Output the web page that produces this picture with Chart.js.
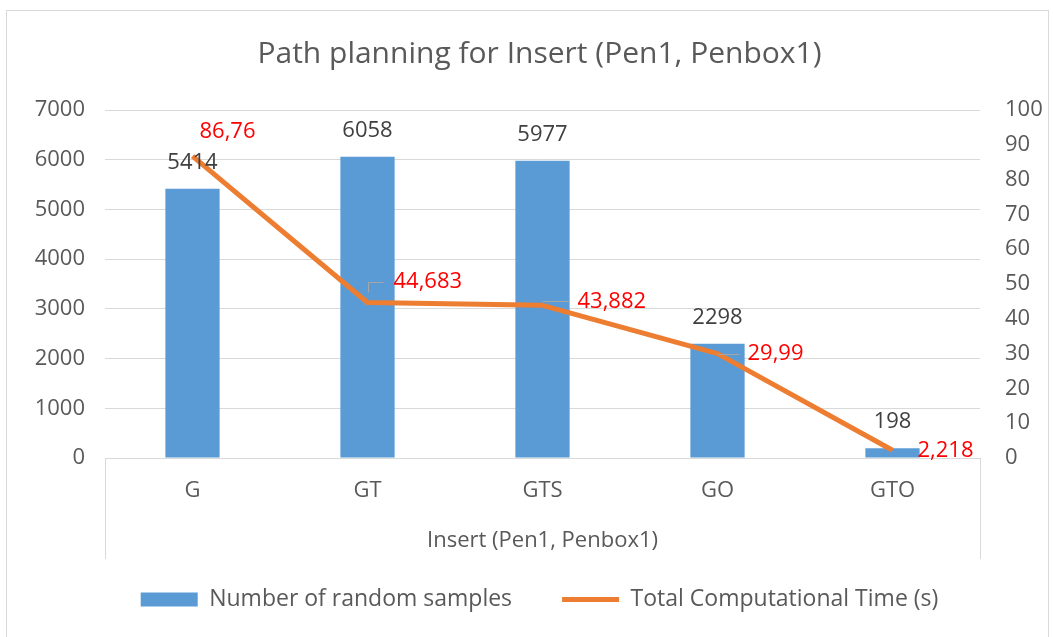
<!DOCTYPE html>
<html>
<head>
<meta charset="utf-8">
<script src="https://cdn.jsdelivr.net/npm/chart.js@4.4.0/dist/chart.umd.min.js"></script>
<style>
  html, body { margin: 0; padding: 0; background: #fff; }
  canvas { display: block; }
</style>
</head>
<body>
<canvas id="myChart" width="1053" height="637"></canvas>
<script>
// values
var categories = ['G', 'GT', 'GTS', 'GO', 'GTO'];
var randomSamples = [5414, 6058, 5977, 2298, 198];
var compTime = [86.76, 44.683, 43.882, 29.99, 2.218];

var samplesAxis = { min: 0, max: 7000, step: 1000 };
var timeAxis = { min: 0, max: 100, step: 10 };

// label placement for the red time labels (x offset to left edge, y offset of centre)
var timeLabelShift = [[7, -24], [26, -21], [35, -4], [30, 0], [25, 0]];
var timeLabelLeader = [false, true, true, true, false];

var FONT = "'Open Sans', sans-serif";
var GREY = '#595959';

Chart.defaults.font.family = FONT;
Chart.defaults.color = GREY;

var frame = {
    id: 'frame',
    beforeDraw: function (chart) {
        var c = chart.ctx;
        c.save();
        c.fillStyle = '#fff';
        c.fillRect(0, 0, chart.width, chart.height);
        c.strokeStyle = '#d9d9d9';
        c.lineWidth = 1;
        c.strokeRect(6.5, 10.5, 1042, 700);
        c.restore();
    },
    afterDraw: function (chart) {
        // the box below the category axis
        var a = chart.chartArea, c = chart.ctx;
        c.save();
        c.strokeStyle = '#d9d9d9';
        c.lineWidth = 1;
        c.beginPath();
        c.moveTo(Math.round(a.left) + 0.5, a.bottom);
        c.lineTo(Math.round(a.left) + 0.5, a.bottom + 101);
        c.moveTo(Math.round(a.right) + 0.5, a.bottom);
        c.lineTo(Math.round(a.right) + 0.5, a.bottom + 101);
        c.stroke();
        c.restore();
    }
};

var valueLabels = {
    id: 'valueLabels',
    afterDatasetsDraw: function (chart) {
        var c = chart.ctx;
        c.save();
        c.font = '22px ' + FONT;

        // bar values
        var bars = chart.getDatasetMeta(0).data;
        c.fillStyle = '#404040';
        c.textAlign = 'center';
        c.textBaseline = 'alphabetic';
        bars.forEach(function (b, i) {
            c.fillText(String(randomSamples[i]), b.x, b.y - 20);
        });

        // time values
        var pts = chart.getDatasetMeta(1).data;
        c.textAlign = 'left';
        c.textBaseline = 'middle';
        pts.forEach(function (p, i) {
            var lx = p.x + timeLabelShift[i][0];
            var ly = p.y + timeLabelShift[i][1];
            if (timeLabelLeader[i]) {
                c.strokeStyle = '#a6a6a6';
                c.lineWidth = 1;
                c.beginPath();
                if (timeLabelShift[i][1] < -8) {
                    c.moveTo(Math.round(p.x) + 0.5, p.y - 10);
                    c.lineTo(Math.round(p.x) + 0.5, Math.round(ly) + 0.5);
                    c.lineTo(lx - 10, Math.round(ly) + 0.5);
                } else {
                    c.moveTo(p.x, Math.round(ly) + 0.5);
                    c.lineTo(lx - 8, Math.round(ly) + 0.5);
                }
                c.stroke();
            }
            c.fillStyle = '#ff0000';
            c.fillText(String(compTime[i]).replace('.', ','), lx, ly);
        });
        c.restore();
    }
};

var ctx = document.getElementById('myChart').getContext('2d');
var myChart = new Chart(ctx, {
    type: 'bar',
    data: {
        labels: categories,
        datasets: [{
            label: 'Number of random samples',
            data: randomSamples,
            backgroundColor: '#5b9bd5',
            borderWidth: 0,
            barPercentage: 0.31,
            categoryPercentage: 1,
            yAxisID: 'y',
            order: 1
        }, {
            type: 'line',
            label: 'Total Computational Time (s)',
            data: compTime,
            borderColor: '#ed7d31',
            backgroundColor: '#ed7d31',
            borderWidth: 5,
            borderJoinStyle: 'round',
            pointRadius: 0,
            tension: 0,
            yAxisID: 'y1',
            order: 0
        }]
    },
    options: {
        responsive: false,
        animation: false,
        layout: { padding: { top: 0, left: 26, right: 0, bottom: 16 } },
        plugins: {
            tooltip: { enabled: false },
            title: {
                display: true,
                text: 'Path planning for Insert (Pen1, Penbox1)',
                color: GREY,
                font: { size: 30, weight: 'normal' },
                padding: { top: 36, bottom: 38 }
            },
            legend: {
                position: 'bottom',
                labels: {
                    usePointStyle: true,
                    pointStyleWidth: 57,
                    boxHeight: 14,
                    padding: 50,
                    color: GREY,
                    font: { size: 23 },
                    sort: function (a, b) { return a.datasetIndex - b.datasetIndex; },
                    generateLabels: function (chart) {
                        var items = Chart.defaults.plugins.legend.labels.generateLabels(chart);
                        items.forEach(function (it) {
                            it.pointStyle = it.datasetIndex === 0 ? 'rect' : 'line';
                        });
                        return items;
                    }
                }
            }
        },
        scales: {
            x: {
                grid: { display: false, drawTicks: false },
                border: { display: true, color: '#d9d9d9' },
                ticks: { color: GREY, font: { size: 22 }, padding: 20 },
                title: {
                    display: true,
                    text: 'Insert (Pen1, Penbox1)',
                    color: GREY,
                    font: { size: 22 },
                    padding: { top: 0, bottom: -16 }
                },
                afterFit: function (s) { s.height = 80; }
            },
            y: {
                position: 'left',
                min: samplesAxis.min,
                max: samplesAxis.max,
                grid: { color: '#d9d9d9', drawTicks: false },
                border: { display: false },
                ticks: {
                    stepSize: samplesAxis.step, color: GREY, font: { size: 22 }, padding: 20,
                    callback: function (v) { return String(v); }
                },
                afterFit: function (s) { s.width = 79; }
            },
            y1: {
                position: 'right',
                min: timeAxis.min,
                max: timeAxis.max,
                grid: { display: false, drawTicks: false },
                border: { display: false },
                ticks: { stepSize: timeAxis.step, color: GREY, font: { size: 22 }, padding: 25 },
                afterFit: function (s) { s.width = 73; }
            }
        }
    },
    plugins: [frame, valueLabels]
});
</script>
</body>
</html>
